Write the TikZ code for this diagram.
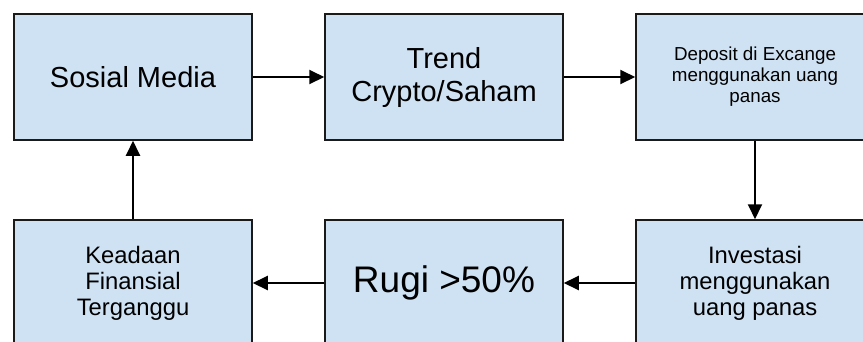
\documentclass[tikz,border=0pt]{standalone}
\usepackage{fontspec}
\setmainfont{Liberation Sans}
\usetikzlibrary{arrows.meta}
\definecolor{boxfill}{HTML}{CFE2F3}
\definecolor{boxline}{HTML}{1A1A1A}
\newcommand{\fsz}[2]{\fontsize{#1pt}{#2pt}\selectfont}
\begin{document}
\begin{tikzpicture}[x=1pt,y=-1pt,
  flowbox/.style={draw=boxline,line width=1.5pt,fill=boxfill,
    minimum width=238pt,minimum height=126pt,inner sep=0pt,
    align=center,text=black},
  arr/.style={line width=2pt,-{Triangle[length=15pt,width=14pt]}}]
\clip (0,0) rectangle (863,341);
\fill[white] (0,0) rectangle (863,341);
% top row
\node[flowbox,font=\fsz{29}{33}] (sosmed) at (133,77) {Sosial Media};
\node[flowbox,font=\fsz{29}{33}] (trend) at (444,77) {Trend\\Crypto/Saham};
\node[flowbox,font=\fsz{18.8}{21}] (deposit) at (755,77) {Deposit di Excange\\menggunakan uang\\panas};
% bottom row
\node[flowbox,font=\fsz{23.8}{26}] (keadaan) at (133,283) {Keadaan\\Finansial\\Terganggu};
\node[flowbox,font=\fsz{37}{40}] (rugi) at (444,283) {Rugi >50\%};
\node[flowbox,font=\fsz{23.8}{26}] (invest) at (755,283) {Investasi\\menggunakan\\uang panas};
% cycle of arrows
\draw[arr] (sosmed) -- (trend);
\draw[arr] (trend) -- (deposit);
\draw[arr] (deposit) -- (invest);
\draw[arr] (invest) -- (rugi);
\draw[arr] (rugi) -- (keadaan);
\draw[arr] (keadaan) -- (sosmed);
\end{tikzpicture}
\end{document}
